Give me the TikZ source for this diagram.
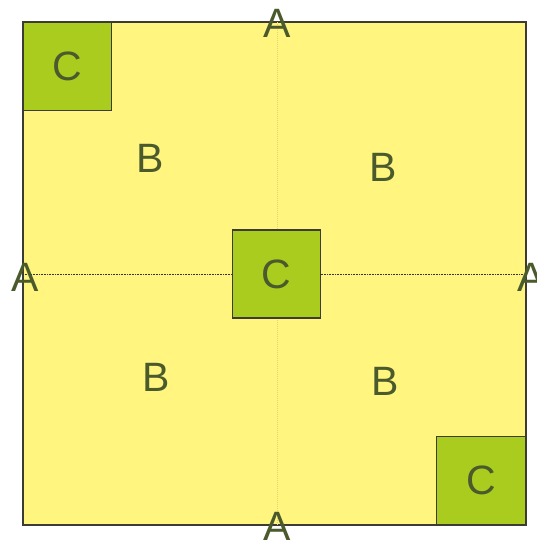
\documentclass[tikz,border=0pt]{standalone}
\usepackage{fontspec}
\setmainfont{Liberation Sans}
\usepackage{xcolor}
\usetikzlibrary{positioning}

\definecolor{paleyellow}{HTML}{FFF57F}
\definecolor{limegreen}{HTML}{A9CC1F}
\definecolor{olivetext}{HTML}{4A5A2C}
\definecolor{edgegray}{HTML}{3C3C34}

\tikzset{
  letter/.style={text=olivetext, font=\fontsize{41}{41}\selectfont, inner sep=0pt},
  greensq/.style={draw=edgegray, fill=limegreen, line width=1.1pt, minimum size=88pt,
    inner sep=0pt, text=olivetext, font=\fontsize{41}{41}\selectfont},
}

\begin{document}
\begin{tikzpicture}[x=1pt, y=-1pt]
			\useasboundingbox (0,0) rectangle (536,544);
			\draw[draw=edgegray, fill=paleyellow, line width=1.1pt] (23,22) rectangle (526,525);
			% guide lines through the middle
			\coordinate (midL) at (23,274);
			\coordinate (midR) at (526,274);
			\coordinate (midT) at (277,22);
			\coordinate (midB) at (277,525);
			\draw[paleyellow!88!black, line width=0.6pt, dash pattern=on 1pt off 1pt] (midT) -- (midB);
			\draw[black!80, line width=0.7pt, dash pattern=on 1pt off 0.6pt] (midL) -- (midR);
			% corner and centre squares
			\node[greensq, anchor=north west] (cTL) at (23,22) {C};
			\node[greensq] (cMid) at (276.5,274) {C};
			\node[greensq, anchor=south east, minimum width=89pt] (cBR) at (526,525) {C};
			% labels
			\node[letter] (aTop) at (277,23) {A};
			\node[letter] (aBot) at (277,526) {A};
			\node[letter] (aLeft) at (25.5,277) {A};
			\node[letter] (aRight) at (531,277) {A};
			\foreach \x/\y/\n in {150/158/1, 383/167/2, 156/377/3, 385/381/4} {
				\node[letter] (b\n) at (\x,\y) {B};
			};
		\end{tikzpicture}
\end{document}
